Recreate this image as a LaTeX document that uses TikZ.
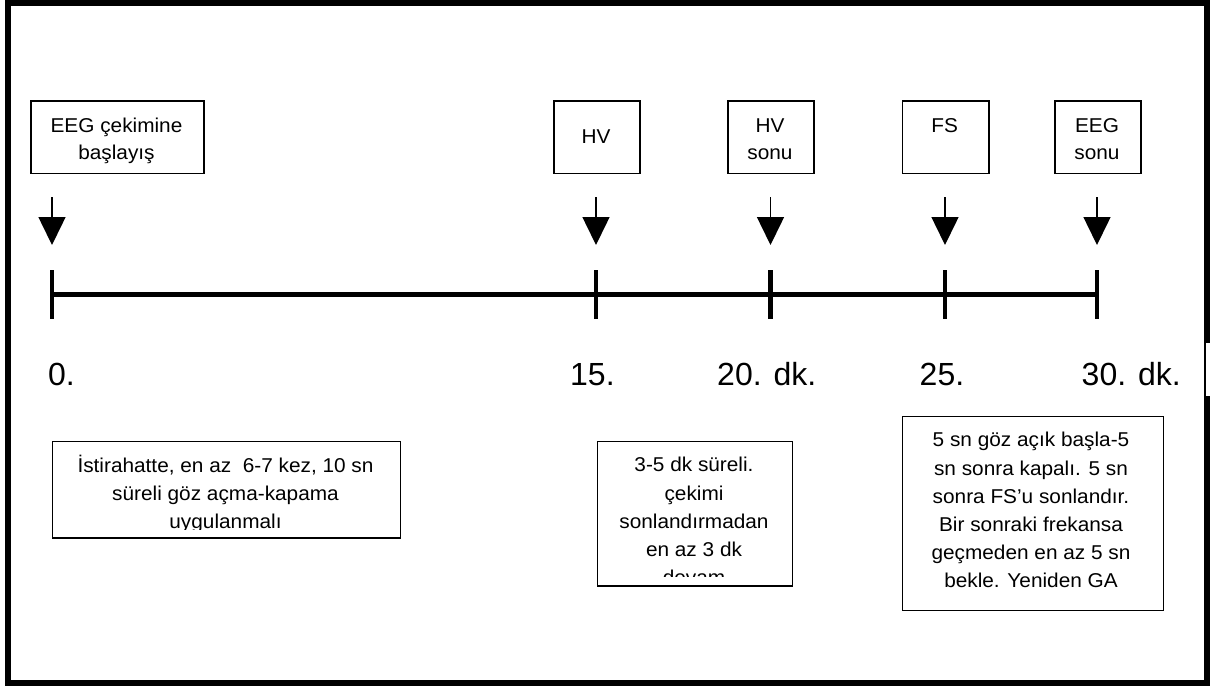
\documentclass[tikz,border=0pt]{standalone}
\usepackage{fontspec}
\setmainfont{Liberation Sans}
\newfontfamily\boxfont[FakeStretch=1.04]{Liberation Sans}
\usetikzlibrary{arrows.meta}

\begin{document}
\begin{tikzpicture}[x=1pt,y=-1pt,
  frame/.style={line width=6pt},
  eventbox/.style={draw, line width=1.8pt, inner sep=0pt, anchor=north west},
  boxtext/.style={inner sep=0pt, align=center, anchor=north,
    font=\boxfont\fontsize{20}{28.2}\selectfont},
  toptext/.style={boxtext, font=\boxfont\fontsize{20}{27.5}\selectfont},
  ticklabel/.style={inner sep=0pt, anchor=base west, font=\fontsize{32}{38}\selectfont},
  axis/.style={line width=5.7pt},
  tickmark/.style={line width=4.7pt},
  marker/.style={line width=1.5pt, -{Triangle[width=27pt,length=28pt]}},
]
\useasboundingbox (0,0) rectangle (1213,686);
\fill[white] (0,0) rectangle (1213,686);

% outer frame
\draw[frame] (7.5,3) rectangle (1207,683);
\fill[white] (1200,343) rectangle (1213,395.5);
\draw[line width=1.5pt] (1205,343) -- (1205,395.5);

% event boxes along the top
\node[eventbox, minimum width=173pt, minimum height=72.5pt] (start) at (30,100) {};
\node[eventbox, minimum width=86pt, minimum height=72.5pt] (hv) at (553,100) {};
\node[eventbox, minimum width=86pt, minimum height=72.5pt] (hvend) at (727,100) {};
\node[eventbox, minimum width=86.5pt, minimum height=72.5pt] (fs) at (901.5,100) {};
\node[eventbox, minimum width=86pt, minimum height=72.5pt] (eegend) at (1054,100) {};

\node[toptext] (starttxt) at (116.5,112) {\rule{0pt}{20pt}EEG çekimine\\başlayış};
\node[inner sep=0pt, anchor=base, font=\boxfont\fontsize{20}{27.5}\selectfont] (hvtxt) at (596,143) {HV};
\node[toptext] (hvendtxt) at (770,112) {\rule{0pt}{20pt}HV\\sonu};
\node[toptext] (fstxt) at (944.75,112) {\rule{0pt}{20pt}FS};
\node[toptext] (eegendtxt) at (1097,112) {\rule{0pt}{20pt}EEG\\sonu};

% marker arrows
\coordinate (m0a) at (52,197);   \coordinate (m0b) at (52,245);
\coordinate (m1a) at (596,197);  \coordinate (m1b) at (596,245);
\coordinate (m2a) at (770.5,197);\coordinate (m2b) at (770.5,245);
\coordinate (m3a) at (945,197);  \coordinate (m3b) at (945,245);
\coordinate (m4a) at (1097,197); \coordinate (m4b) at (1097,245);
\foreach \i in {0,...,4} { \draw[marker] (m\i a) -- (m\i b); }

% time axis
\coordinate (t0) at (52,294.5);
\coordinate (t1) at (596,294.5);
\coordinate (t2) at (770.5,294.5);
\coordinate (t3) at (945,294.5);
\coordinate (t4) at (1097,294.5);
\draw[axis] (t0) -- (t4);
\foreach \i in {0,...,4} { \draw[tickmark] (t\i) ++(0,-24.5) -- ++(0,48.5); }

% minute labels
\node[ticklabel] (l0) at (48,385) {0.};
\node[ticklabel] (l1) at (570,385) {15.};
\node[ticklabel] (l2) at (717,385) {20. dk.};
\node[ticklabel] (l3) at (919.5,385) {25.};
\node[ticklabel] (l4) at (1081.5,385) {30. dk.};

% notes below the axis
\node[eventbox, minimum width=348pt, minimum height=96.5pt] (rest) at (51.5,440.5) {};
\node[eventbox, minimum width=195pt, minimum height=144.5pt] (hvnote) at (596.5,440.5) {};
\node[eventbox, minimum width=261pt, minimum height=194pt] (fsnote) at (901.5,415.5) {};

\begin{scope}
  \clip (51.5,440.5) rectangle (399.5,529.5);
  \node[boxtext] (resttxt) at (225.5,452.3)
    {\rule{0pt}{20pt}İstirahatte, en az\ \ 6-7 kez, 10 sn\\süreli göz açma-kapama\\uygulanmalı};
\end{scope}
\begin{scope}
  \clip (596.5,440.5) rectangle (791.5,576);
  \node[boxtext] (hvnotetxt) at (694,451.7)
    {\rule{0pt}{20pt}3-5 dk süreli.\\çekimi\\sonlandırmadan\\en az 3 dk\\devam};
\end{scope}
\begin{scope}
  \clip (901.5,415.5) rectangle (1162.5,602);
  \node[boxtext] (fsnotetxt) at (1031,426.7)
    {\rule{0pt}{20pt}5 sn göz açık başla-5\\sn sonra kapalı. 5 sn\\sonra FS’u sonlandır.\\Bir sonraki frekansa\\geçmeden en az 5 sn\\bekle. Yeniden GA};
\end{scope}
\end{tikzpicture}
\end{document}
